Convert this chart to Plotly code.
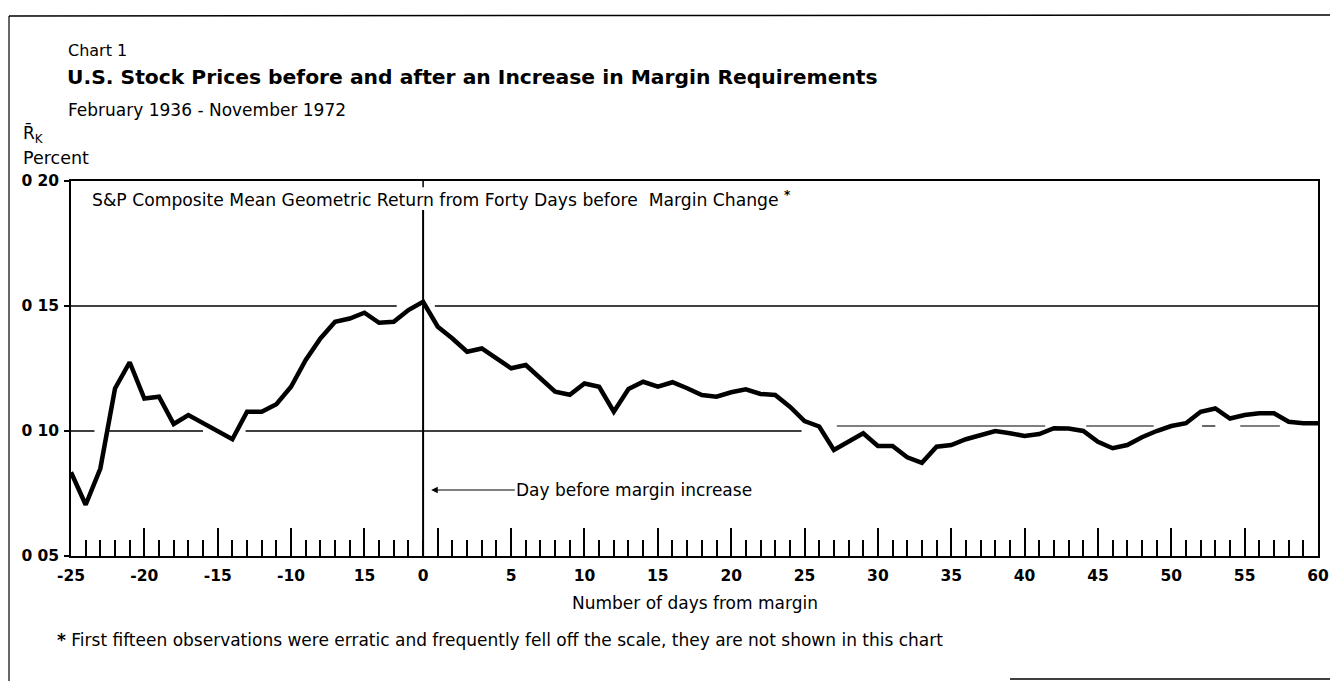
import plotly.graph_objects as go

# ---------------- data ----------------
days = list(range(-25, 61))
mean_return = [
    0.0835, 0.0705, 0.0850, 0.1170, 0.1275, 0.1130, 0.1137, 0.1028, 0.1064, 0.1032,
    0.1000, 0.0967, 0.1077, 0.1077, 0.1107, 0.1177, 0.1284, 0.1370, 0.1437, 0.1450,
    0.1473, 0.1433, 0.1437, 0.1484, 0.1517, 0.1417, 0.1370, 0.1317, 0.1330, 0.1291,
    0.1251, 0.1264, 0.1211, 0.1157, 0.1145, 0.1190, 0.1177, 0.1077, 0.1168, 0.1197,
    0.1177, 0.1195, 0.1171, 0.1144, 0.1137, 0.1155, 0.1167, 0.1148, 0.1144, 0.1097,
    0.1040, 0.1018, 0.0924, 0.0957, 0.0991, 0.0940, 0.0940, 0.0895, 0.0873, 0.0937,
    0.0944, 0.0967, 0.0984, 0.1000, 0.0991, 0.0980, 0.0988, 0.1011, 0.1010, 0.1000,
    0.0957, 0.0931, 0.0944, 0.0975, 0.1000, 0.1020, 0.1031, 0.1077, 0.1090, 0.1050,
    0.1064, 0.1071, 0.1071, 0.1037, 0.1031, 0.1031,
]
x_label_vals = [-25, -20, -15, -10, -5, -1, 5, 10, 15, 20, 25, 30, 35, 40, 45, 50, 55, 60]
x_label_text = ["-25", "-20", "-15", "-10", "15", "0", "5", "10", "15", "20", "25",
                "30", "35", "40", "45", "50", "55", "60"]
y_tick_vals = [0.05, 0.10, 0.15, 0.20]
y_tick_text = ["0 05", "0 10", "0 15", "0 20"]
margin_day = -1

# ---------------- geometry (page pixels) ----------------
W, H = 1330, 681
L, R, T, B = 71, 1318, 181, 556     # plot area in page pixels
FONT = "DejaVu Sans"


def px(x):
    return (x - L) / (R - L)


def py(y):
    return (B - y) / (B - T)


fig = go.Figure()
fig.add_trace(go.Scatter(x=days, y=mean_return, mode="lines",
                         line=dict(color="black", width=4.5), hoverinfo="skip",
                         showlegend=False))
fig.add_trace(go.Scatter(x=days, y=mean_return, mode="lines", xaxis="x2",
                         line=dict(color="rgba(0,0,0,0)", width=0), hoverinfo="skip",
                         showlegend=False))

shapes = []
line_k = dict(color="black", width=1.5)
for a, b in [(-25, -2.8), (-0.2, 60)]:
    shapes.append(dict(type="line", xref="x", yref="y", x0=a, x1=b, y0=0.15, y1=0.15,
                       line=line_k, layer="below"))
for a, b in [(-25, -23.4), (-22.4, -16.0), (-13.1, 24.8)]:
    shapes.append(dict(type="line", xref="x", yref="y", x0=a, x1=b, y0=0.10, y1=0.10,
                       line=line_k, layer="below"))
for a, b in [(27.2, 41.4), (44.2, 48.8), (52.1, 53.0), (54.7, 57.4)]:
    shapes.append(dict(type="line", xref="x", yref="y", x0=a, x1=b, y0=0.102, y1=0.102,
                       line=dict(color="black", width=1.2), layer="below"))
shapes.append(dict(type="line", xref="x", yref="y", x0=margin_day, x1=margin_day,
                   y0=0.05, y1=0.1884, line=dict(color="black", width=2)))
shapes.append(dict(type="line", xref="x", yref="y", x0=margin_day, x1=margin_day,
                   y0=0.20, y1=0.1975, line=dict(color="black", width=1.5)))
# outer frame
shapes.append(dict(type="line", xref="paper", yref="paper", x0=px(9), x1=px(9),
                   y0=py(16), y1=py(681), line=dict(color="black", width=1.2)))
shapes.append(dict(type="line", xref="paper", yref="paper", x0=px(9), x1=px(1330),
                   y0=py(16), y1=py(15), line=dict(color="black", width=1.5)))
shapes.append(dict(type="line", xref="paper", yref="paper", x0=px(1010), x1=px(1330),
                   y0=py(679), y1=py(679), line=dict(color="black", width=1.5)))

ann = []


def text(x, y, s, size, bold=False, anchor="left"):
    ann.append(dict(xref="paper", yref="paper", x=px(x), y=py(y),
                    text=(f"<b>{s}</b>" if bold else s),
                    showarrow=False, xanchor=anchor, yanchor="middle",
                    font=dict(family=FONT, size=size, color="black")))


text(66, 50, "Chart 1", 16)
text(65, 77, "U.S. Stock Prices before and after an Increase in Margin Requirements", 20.3, bold=True)
text(66, 110, "February 1936 - November 1972", 17)
text(21, 134, "R\u0304<sub>K</sub>", 17)
text(21, 158, "Percent", 17.5)
text(90, 199, "S&P Composite Mean Geometric Return from Forty Days before  Margin Change <sup><b>*</b></sup>", 17.2)
text(695, 603, "Number of days from margin", 17, anchor="center")
text(55, 640, "<b>*</b> First fifteen observations were erratic and frequently fell off the scale, they are not shown in this chart", 17)

ann.append(dict(xref="x", yref="y", x=-0.45, y=0.0764, axref="x", ayref="y",
                ax=13.4, ay=0.0764, text="Day before margin increase", showarrow=True,
                arrowhead=2, arrowsize=1.1, arrowwidth=1.2, arrowcolor="black",
                standoff=0, startstandoff=0,
                font=dict(family=FONT, size=17, color="black")))

fig.update_layout(
    width=W, height=H, autosize=False,
    margin=dict(l=L, r=W - R, t=T, b=H - B, autoexpand=False),
    paper_bgcolor="white", plot_bgcolor="white",
    showlegend=False, hovermode=False,
    shapes=shapes, annotations=ann,
    xaxis=dict(range=[-25, 60], showgrid=False, zeroline=False, automargin=False,
               showline=True, linecolor="black", linewidth=2, mirror=True,
               ticks="inside", tickmode="linear", tick0=0, dtick=5, ticklen=28,
               tickwidth=1.5, tickcolor="black", showticklabels=False,
               minor=dict(ticks="inside", tickmode="linear", tick0=0, dtick=1,
                          ticklen=16, tickwidth=1.5, tickcolor="black", showgrid=False)),
    xaxis2=dict(range=[-25, 60], overlaying="x", anchor="y", side="bottom",
                showgrid=False, zeroline=False, showline=False, ticks="", automargin=False,
                tickmode="array", tickvals=x_label_vals, ticktext=x_label_text,
                ticklabelstandoff=8,
                tickfont=dict(family=FONT, size=15.5, color="black", weight="bold")),
    yaxis=dict(range=[0.05, 0.20], showgrid=False, zeroline=False, automargin=False,
               showline=True, linecolor="black", linewidth=1.5, mirror=True,
               ticks="outside", ticklen=5, tickwidth=1.5, tickcolor="black",
               tickmode="array", tickvals=y_tick_vals, ticktext=y_tick_text,
               ticklabelstandoff=2,
               tickfont=dict(family=FONT, size=15.5, color="black", weight="bold")),
)

fig.write_html("out.html",
               config={"displayModeBar": False},
               post_script="document.body.style.margin='0px';document.body.style.overflow='hidden';")
